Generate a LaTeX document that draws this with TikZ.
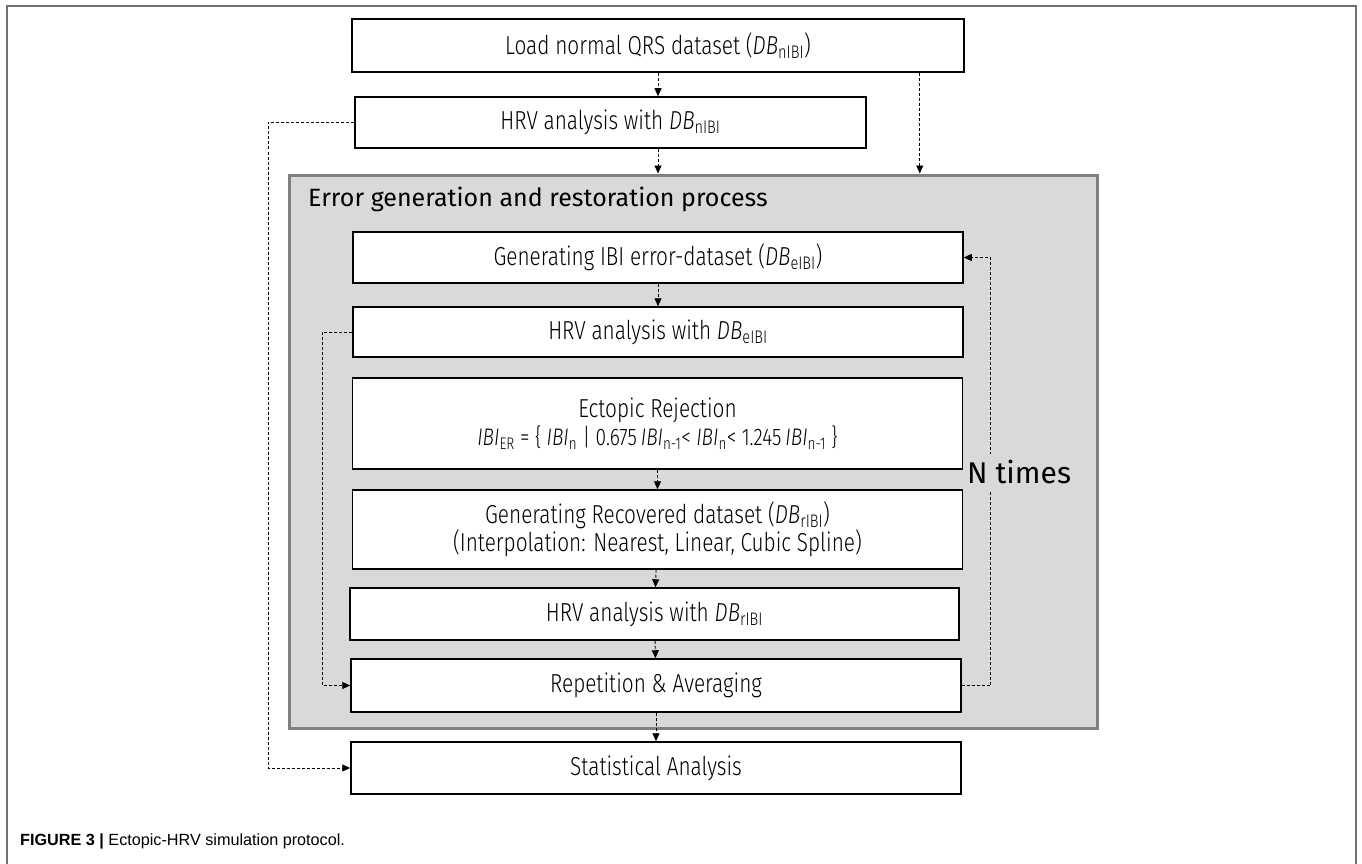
\documentclass[tikz,border=0pt]{standalone}
\usepackage{fontspec}
\setmainfont{Fira Sans}[UprightFont=* Light, ItalicFont=* Light Italic, BoldFont=*, FakeStretch=0.8]
\newfontfamily\titlefont{Fira Sans}
\newfontfamily\capfont{Liberation Sans}
\usepackage{xcolor}
\usepackage{tikz}
\usetikzlibrary{arrows.meta}

\definecolor{shadegray}{HTML}{D9D9D9}
\definecolor{framegray}{HTML}{707070}
\definecolor{bordergray}{HTML}{808080}

\newcommand{\DBsub}[1]{\textit{DB}\textsubscript{#1}}
\newcommand{\IBIsub}[1]{\textit{IBI}\textsubscript{#1}}

\begin{document}
\begin{tikzpicture}[x=1pt, y=-1pt,
    stepbox/.style={rectangle, draw=black, fill=white, line width=1.5pt, minimum width=610pt, minimum height=52pt, inner sep=0pt, align=center, font=\fontsize{26}{28}\selectfont},
    flow/.style={-{Triangle[length=8pt,width=7pt]}, line width=0.9pt, dash pattern=on 3pt off 2pt}
]
    \useasboundingbox (0,0) rectangle (1362,864);

    % Frame
    \draw[framegray, line width=2pt] (7,864) -- (7,6) -- (1356,6) -- (1356,864);

    % Process area
    \node[rectangle, draw=bordergray, fill=shadegray, line width=3pt, minimum width=808pt, minimum height=553pt, inner sep=0pt] (errbox) at (693,451.5) {};
    \node[anchor=base west, inner sep=0pt, font=\titlefont\fontsize{25}{30}\selectfont] (errtitle) at (308,206) {Error generation and restoration process};

    % Steps
    \node[stepbox, minimum width=612pt, minimum height=53pt] (load) at (658,45.5) {Load normal QRS dataset (\DBsub{nIBI})};
    \node[stepbox, minimum width=511pt, minimum height=51pt] (hrvn) at (610.5,122.5) {HRV analysis with \DBsub{nIBI}};
    \node[stepbox, minimum height=51pt] (generr) at (658,257.5) {Generating IBI error-dataset (\DBsub{eIBI})};
    \node[stepbox, minimum height=50pt] (hrve) at (658,332) {HRV analysis with \DBsub{eIBI}};
    \node[stepbox, minimum height=91pt] (ectopic) at (657.5,423.5) {Ectopic Rejection\\
        {\fontsize{24}{28}\selectfont\IBIsub{ER} = \{ \IBIsub{n} | 0.675\,\IBIsub{n-1}< \IBIsub{n}< 1.245\,\IBIsub{n-1} \}}};
    \node[stepbox, minimum height=79pt] (recov) at (657.5,529.5) {Generating Recovered dataset (\DBsub{rIBI})\\
        (Interpolation: Nearest, Linear, Cubic Spline)};
    \node[stepbox, minimum width=609pt] (hrvr) at (654.5,614) {HRV analysis with \DBsub{rIBI}};
    \node[stepbox, minimum height=53pt] (repet) at (656,685.5) {Repetition \& Averaging};
    \node[stepbox] (stat) at (656,768) {Statistical Analysis};

    % Arrows
    \draw[flow] (load.south) -- (load.south |- hrvn.north);
    \draw[flow] (load.south |- hrvn.south) -- (load.south |- errbox.north);
    \draw[flow] ([xshift=-45pt]load.south east) -- ([xshift=-45pt]load.south east |- errbox.north);
    \draw[flow] (generr) -- (hrve);
    \draw[flow] (ectopic) -- (recov);
    \draw[flow] (recov) -- (hrvr);
    \draw[flow] (hrvr) -- (repet);
    \draw[flow] (repet) -- (stat);
    \draw[flow] (hrvn.west) -- ++(-86,0) |- (stat.west);
    \draw[flow] (hrve.west) -- ++(-30,0) |- (repet.west);
    \draw[flow] (repet.east) -- ++(29,0) |- (generr.east);

    % Loop label
    \node[fill=shadegray, anchor=west, inner xsep=0pt, inner ysep=6pt, font=\titlefont\fontsize{30}{34}\selectfont] (ntimes) at (967,472) {N times};

    % Caption
    \node[anchor=west, inner sep=0pt, font=\capfont\fontsize{16.2}{19}\selectfont] (caption) at (20,841) {\textbf{FIGURE 3 |} Ectopic-HRV simulation protocol.};
\end{tikzpicture}
\end{document}
